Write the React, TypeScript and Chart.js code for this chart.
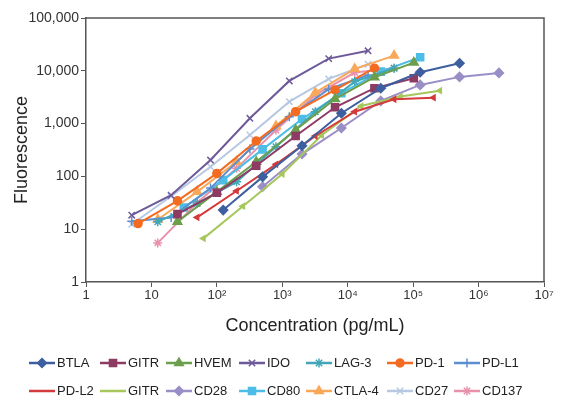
import { useEffect, useRef } from 'react';
import { Chart, registerables } from 'chart.js';
import { drawPoint } from 'chart.js/helpers';

Chart.register(...registerables);

// ---- data ----
const seriesNames = ['BTLA', 'GITR', 'HVEM', 'IDO', 'LAG-3', 'PD-1', 'PD-L1', 'PD-L2', 'GITR', 'CD28', 'CD80', 'CTLA-4', 'CD27', 'CD137'];

const concBTLA = [125, 500, 2000, 8000, 32000, 128000, 512000];
const fluorBTLA = [23, 98, 381, 1570, 4680, 9400, 13900];
const concGITR = [25, 100, 400, 1600, 6400, 25600, 102400];
const fluorGITR = [19.3, 48.9, 159, 582, 2040, 4680, 7240];
const concHVEM = [25, 100, 400, 1600, 6400, 25600, 102400];
const fluorHVEM = [13.8, 51, 189, 757, 2930, 7560, 14300];
const concIDO = [5, 20, 80, 320, 1280, 5120, 20480];
const fluorIDO = [18.4, 44, 204, 1260, 6430, 17000, 23900];
const concLAG3 = [12.5, 50, 200, 800, 3200, 12800, 51200];
const fluorLAG3 = [13.8, 30.7, 79, 365, 1680, 6240, 11200];
const concPD1 = [6.25, 25, 100, 400, 1600, 6400, 25600];
const fluorPD1 = [12.8, 34.4, 114, 468, 1680, 4340, 11200];
const concPDL1 = [5, 20, 80, 320, 1280, 5120, 20480];
const fluorPDL1 = [14.2, 16.7, 60, 330, 1350, 4470, 8300];
const concPDL2 = [50, 200, 800, 3200, 12800, 51200, 204800];
const fluorPDL2 = [16.7, 53, 169, 582, 1680, 2890, 3100];
const concGITR2 = [62.5, 250, 1000, 4000, 16000, 64000, 256000];
const fluorGITR2 = [6.7, 27.3, 111, 600, 2150, 3250, 4200];
const concCD28 = [500, 2000, 8000, 32000, 128000, 512000, 2048000];
const fluorCD28 = [63.5, 265, 826, 2690, 5400, 7670, 9120];
const concCD80 = [31.25, 125, 500, 2000, 8000, 32000, 128000];
const fluorCD80 = [25.8, 85, 325, 1220, 3760, 9660, 18100];
const concCTLA4 = [12.5, 50, 200, 800, 3200, 12800, 51200];
const fluorCTLA4 = [15.3, 51, 189, 900, 3860, 10900, 19400];
const concCD27 = [5, 20, 80, 320, 1280, 5120, 20480];
const fluorCD27 = [12.4, 42, 152, 608, 2600, 7020, 13300];
const concCD137 = [12.5, 50, 200, 800, 3200, 12800, 51200];
const fluorCD137 = [5.5, 31.6, 142, 756, 3490, 9250, 11200];

const seriesConc = [concBTLA, concGITR, concHVEM, concIDO, concLAG3, concPD1, concPDL1, concPDL2, concGITR2, concCD28, concCD80, concCTLA4, concCD27, concCD137];
const seriesFluor = [fluorBTLA, fluorGITR, fluorHVEM, fluorIDO, fluorLAG3, fluorPD1, fluorPDL1, fluorPDL2, fluorGITR2, fluorCD28, fluorCD80, fluorCTLA4, fluorCD27, fluorCD137];

const xTickValues = [1, 10, 100, 1000, 10000, 100000, 1000000, 10000000];
const xTickLabels = ['1', '10', '10²', '10³', '10⁴', '10⁵', '10⁶', '10⁷'];
const yTickValues = [1, 10, 100, 1000, 10000, 100000];
const yTickLabels = ['1', '10', '100', '1,000', '10,000', '100,000'];

// ---- styles ----
const seriesColors = ['#3e5f9f', '#8e3b63', '#6b9f4c', '#6e5a99', '#41a7b7', '#f36b21', '#5b8fd0', '#d43a3a', '#a5c75c', '#9a8ec6', '#4cbde6', '#f9a85a', '#b7c8e3', '#e991ab'];
const seriesMarkers = ['rectRot', 'rect', 'triangle', 'crossRot', 'star', 'circle', 'cross', 'triangle', 'triangle', 'rectRot', 'rect', 'triangle', 'crossRot', 'star'];
const seriesRadius = [4.5, 5, 5, 4.5, 4.5, 4, 4.5, 3, 3, 4.5, 5, 5, 4.5, 4.5];
const seriesRotation = [0, 0, 0, 0, 0, 0, 0, -90, -90, 0, 0, 0, 0, 0];
const legendHasMarker = [true, true, true, true, true, true, true, false, false, true, true, true, true, true];

const FONT = '"Liberation Sans", Arial, Helvetica, sans-serif';

const boxPlugin = {
  id: 'boxFrame',
  afterDraw(chart: any) {
    const { ctx, chartArea } = chart;
    ctx.save();
    ctx.strokeStyle = '#555';
    ctx.lineWidth = 1.5;
    ctx.beginPath();
    ctx.moveTo(chartArea.left, chartArea.top);
    ctx.lineTo(chartArea.right, chartArea.top);
    ctx.lineTo(chartArea.right, chartArea.bottom);
    ctx.stroke();
    ctx.restore();
  },
};

const legendPlugin = {
  id: 'columnLegend',
  afterDraw(chart: any) {
    const ctx = chart.ctx;
    const cols = [29, 100, 166, 239, 306, 387, 454];
    const rows = [363, 391];
    chart.data.datasets.forEach((ds: any, i: number) => {
      const x = cols[i % 7];
      const y = rows[Math.floor(i / 7)];
      ctx.save();
      ctx.strokeStyle = ds.borderColor;
      ctx.lineWidth = 2.5;
      ctx.beginPath();
      ctx.moveTo(x, y);
      ctx.lineTo(x + 26, y);
      ctx.stroke();
      if (legendHasMarker[i]) {
        ctx.fillStyle = ds.borderColor;
        ctx.strokeStyle = ds.borderColor;
        ctx.lineWidth = 1.5;
        drawPoint(ctx, { pointStyle: ds.pointStyle, rotation: 0, radius: ds.pointRadius, borderWidth: 1.5 }, x + 13, y);
      }
      ctx.fillStyle = '#222';
      ctx.font = `13px ${FONT}`;
      ctx.textBaseline = 'middle';
      ctx.textAlign = 'left';
      ctx.fillText(ds.label, x + 28, y + 0.5);
      ctx.restore();
    });
  },
};

export default function App() {
  const ref = useRef<HTMLCanvasElement | null>(null);

  useEffect(() => {
    document.body.style.margin = '0';
    const canvas = ref.current;
    if (!canvas) return;
    const datasets = seriesNames.map((name, i) => ({
      label: name,
      data: seriesConc[i].map((c, j) => ({ x: c, y: seriesFluor[i][j] })),
      borderColor: seriesColors[i],
      backgroundColor: seriesColors[i],
      pointBackgroundColor: seriesColors[i],
      pointBorderColor: seriesColors[i],
      pointStyle: seriesMarkers[i],
      pointRadius: seriesRadius[i],
      pointRotation: seriesRotation[i],
      pointBorderWidth: 1.5,
      borderWidth: 2,
      tension: 0,
      fill: false,
    }));

    const chart = new Chart(canvas, {
      type: 'line',
      data: { datasets },
      plugins: [boxPlugin, legendPlugin],
      options: {
        animation: false,
        responsive: false,
        devicePixelRatio: 1,
        parsing: false as any,
        layout: { padding: { top: 18, right: 43, left: 0, bottom: 0 } },
        plugins: {
          legend: { display: false },
          tooltip: { enabled: false },
        },
        scales: {
          x: {
            type: 'logarithmic',
            position: 'bottom',
            min: 1,
            max: 10000000,
            afterBuildTicks: (s: any) => {
              s.ticks = xTickValues.map((v) => ({ value: v }));
            },
            afterFit: (s: any) => {
              s.height = 116;
            },
            ticks: {
              autoSkip: false,
              maxRotation: 0,
              padding: 1,
              color: '#333',
              font: { family: FONT, size: 13 },
              callback: (v: any) => {
                const k = xTickValues.indexOf(Number(v));
                return k >= 0 ? xTickLabels[k] : '';
              },
            },
            grid: { display: true, drawOnChartArea: false, drawTicks: true, tickLength: 5, color: '#555', lineWidth: 1 },
            border: { display: true, color: '#555', width: 1.5 },
            title: {
              display: true,
              text: 'Concentration (pg/mL)',
              color: '#222',
              font: { family: FONT, size: 18 },
              padding: { top: 0, bottom: 61 },
            },
          },
          y: {
            type: 'logarithmic',
            position: 'left',
            min: 1,
            max: 100000,
            afterBuildTicks: (s: any) => {
              s.ticks = yTickValues.map((v) => ({ value: v }));
            },
            afterFit: (s: any) => {
              s.width = 86;
            },
            ticks: {
              autoSkip: false,
              padding: 2,
              color: '#333',
              font: { family: FONT, size: 14 },
              callback: (v: any) => {
                const k = yTickValues.indexOf(Number(v));
                return k >= 0 ? yTickLabels[k] : '';
              },
            },
            grid: { display: true, drawOnChartArea: false, drawTicks: true, tickLength: 5, color: '#555', lineWidth: 1 },
            border: { display: true, color: '#555', width: 1.5 },
            title: {
              display: true,
              text: 'Fluorescence',
              color: '#222',
              font: { family: FONT, size: 18 },
              padding: { top: 11, bottom: 0 },
            },
          },
        },
      },
    } as any);
    return () => chart.destroy();
  }, []);

  return <canvas ref={ref} width={587} height={398} style={{ display: 'block', width: 587, height: 398 }} />;
}
